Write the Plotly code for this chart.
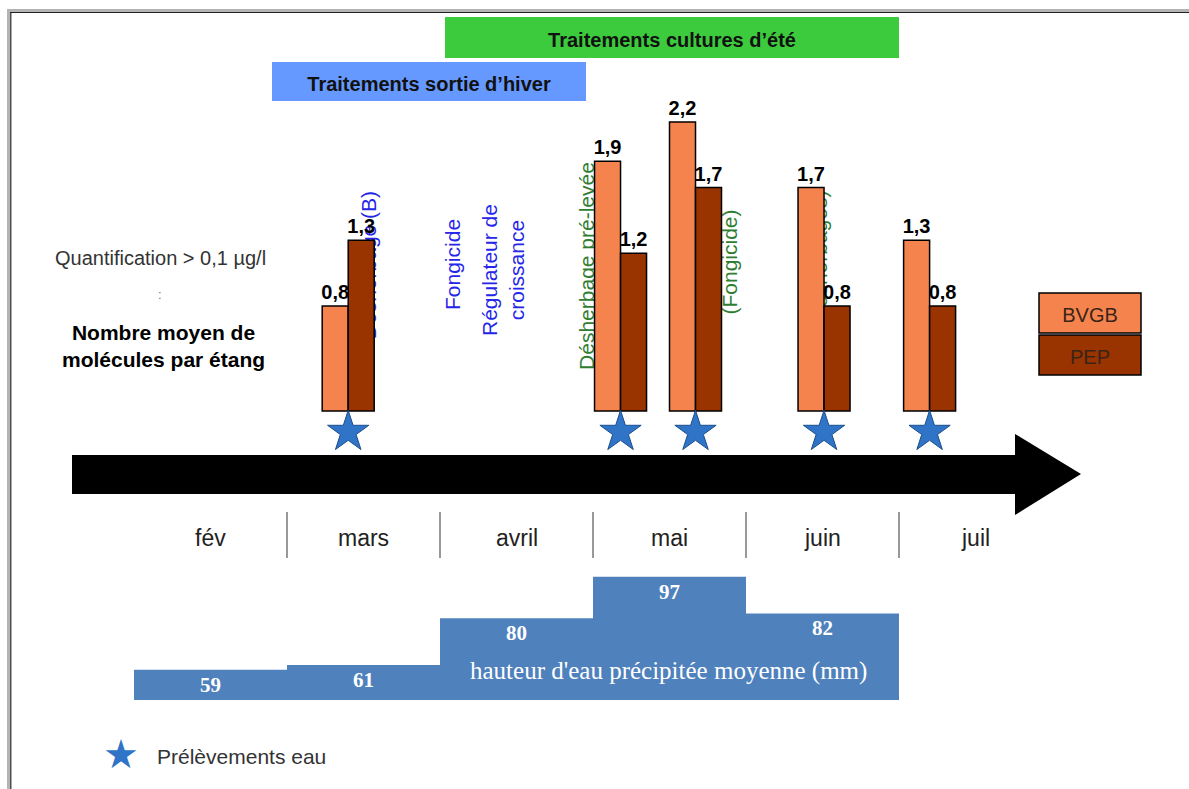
import plotly.graph_objects as go

# ---------------------------------------------------------------------------
# Données
# ---------------------------------------------------------------------------
# Dates des prélèvements d'eau (mois fractionnaire : 3 = début mars)
prelevements = [3.40, 5.18, 5.67, 6.51, 7.20]
# Nombre moyen de molécules quantifiées (> 0,1 µg/l) par étang
bvgb = [0.8, 1.9, 2.2, 1.7, 1.3]
pep = [1.3, 1.2, 1.7, 0.8, 0.8]

# Axe des mois
mois_num = [2, 3, 4, 5, 6, 7]
mois = ["fév", "mars", "avril", "mai", "juin", "juil"]

# Hauteur d'eau précipitée moyenne (mm), de février à juin
pluie_mois = [2, 3, 4, 5, 6]
pluie = [59, 61, 80, 97, 82]

# ---------------------------------------------------------------------------
# Mise en page (pixels de la page)
# ---------------------------------------------------------------------------
W, H = 1189, 789
MONTH_PX = 153.0          # largeur d'un mois
MARS_PX = 287.0           # début de mars
BASE_PX = 411.0           # pied des barres
UNIT_PX = 131.4           # pixels par molécule
RAIN_BOTTOM_PX, RAIN_TOP_PX = 700.0, 560.0
RAIN_MIN, RAIN_PX = 46.7, 2.452

ORANGE = "#F5834D"
BROWN = "#993300"
RAIN_BLUE = "#4F81BD"
STAR_BLUE = "#2F74C6"
TXT_BLUE = "#2626E8"
TXT_GREEN = "#2E7D32"
SANS = "Liberation Sans"
SERIF = "Liberation Serif"


def fx(px):
    return px / W


def fy(py):
    return 1 - py / H


x_lo = 3 - MARS_PX / MONTH_PX
x_hi = x_lo + W / MONTH_PX
y_lo = -(H - BASE_PX) / UNIT_PX
y_hi = BASE_PX / UNIT_PX
bar_w = 26 / MONTH_PX
star_y = (BASE_PX - 432) / UNIT_PX


def fr(v):
    return f"{v:.1f}".replace(".", ",")


fig = go.Figure()

# Barres : molécules par étang
fig.add_trace(go.Bar(
    x=prelevements, y=bvgb, width=bar_w, offset=-bar_w, name="BVGB",
    marker=dict(color=ORANGE, line=dict(color="black", width=1.5)),
    text=[fr(v) for v in bvgb], textposition="outside", constraintext="none",
    textangle=0, cliponaxis=False,
    textfont=dict(family=SANS, size=20, color="black", weight="bold"),
    hoverinfo="skip",
))
fig.add_trace(go.Bar(
    x=prelevements, y=pep, width=bar_w, offset=0, name="PEP",
    marker=dict(color=BROWN, line=dict(color="black", width=1.5)),
    text=[fr(v) for v in pep], textposition="outside", constraintext="none",
    textangle=0, cliponaxis=False,
    textfont=dict(family=SANS, size=20, color="black", weight="bold"),
    hoverinfo="skip",
))

# Étoiles : prélèvements d'eau
fig.add_trace(go.Scatter(
    x=prelevements, y=[star_y] * len(prelevements), mode="markers",
    marker=dict(symbol="star", size=31, color=STAR_BLUE,
                line=dict(color="#1B4E8C", width=1)),
    cliponaxis=False, hoverinfo="skip", name="Prélèvements eau",
))

# Pluviométrie mensuelle
fig.add_trace(go.Bar(
    x=[m + 0.5 for m in pluie_mois], y=pluie, width=1, yaxis="y2",
    marker=dict(color=RAIN_BLUE, line=dict(width=0)),
    text=[str(v) for v in pluie], textposition="inside",
    insidetextanchor="end", textangle=0,
    textfont=dict(family=SERIF, size=21, color="white", weight="bold"),
    hoverinfo="skip", name="Pluie",
))

shapes = []
annotations = []

# Cadre de la page
shapes += [
    dict(type="line", xref="paper", yref="paper", x0=fx(7), x1=1, y0=fy(10.5), y1=fy(10.5),
         line=dict(color="#B4B4B4", width=3)),
    dict(type="line", xref="paper", yref="paper", x0=fx(10), x1=1, y0=fy(12.5), y1=fy(12.5),
         line=dict(color="#222222", width=1.2)),
    dict(type="line", xref="paper", yref="paper", x0=fx(8.5), x1=fx(8.5), y0=fy(9), y1=0,
         line=dict(color="#B4B4B4", width=3)),
    dict(type="line", xref="paper", yref="paper", x0=fx(10.8), x1=fx(10.8), y0=fy(12), y1=0,
         line=dict(color="#222222", width=1.2)),
]

# Bandeaux des périodes de traitement
shapes += [
    dict(type="rect", xref="paper", yref="paper", x0=fx(445), x1=fx(899), y0=fy(58), y1=fy(17),
         fillcolor="#3CCB3C", line=dict(width=0),
         label=dict(text="Traitements cultures d’été",
                    font=dict(family=SANS, size=20, color="#111111", weight="bold"))),
    dict(type="rect", xref="paper", yref="paper", x0=fx(272), x1=fx(586), y0=fy(101), y1=fy(62),
         fillcolor="#6699FF", line=dict(width=0),
         label=dict(text="Traitements sortie d’hiver",
                    font=dict(family=SANS, size=20, color="#111111", weight="bold"))),
]

# Flèche du temps
arrow = [(72, 455), (1015, 455), (1015, 434), (1081, 474), (1015, 515), (1015, 494), (72, 494)]
path = "M " + " L ".join(f"{fx(a):.5f},{fy(b):.5f}" for a, b in arrow) + " Z"
shapes.append(dict(type="path", xref="paper", yref="paper", path=path,
                   fillcolor="black", line=dict(width=0)))

# Séparateurs entre les mois
for m in mois_num[1:]:
    shapes.append(dict(type="line", xref="x", yref="paper", x0=m, x1=m,
                       y0=fy(558), y1=fy(512), line=dict(color="#555555", width=1.2)))

# Libellés de traitements en partie masqués par les barres
hidden = [
    ("Désherbage (B)", 366, 265, TXT_BLUE),
    ("Désherbage pré-levée", 584, 266, TXT_GREEN),
    ("(Fongicide)", 727, 262, TXT_GREEN),
    ("(Désherbages)", 817, 260, TXT_GREEN),
]
for txt, cx, cy, col in hidden:
    shapes.append(dict(type="rect", xref="paper", yref="paper",
                       x0=fx(cx - 12), x1=fx(cx + 12), y0=fy(cy + 120), y1=fy(cy - 120),
                       fillcolor="rgba(0,0,0,0)", line=dict(width=0), layer="below",
                       label=dict(text=txt, textangle=-90,
                                  font=dict(family=SANS, size=21, color=col))))

# Légende des étangs
for txt, col, y0, y1 in [("BVGB", ORANGE, 293, 333), ("PEP", BROWN, 335, 375)]:
    shapes.append(dict(type="rect", xref="paper", yref="paper",
                       x0=fx(1039), x1=fx(1141), y0=fy(y1), y1=fy(y0),
                       fillcolor=col, line=dict(color="black", width=1.5),
                       label=dict(text=txt, font=dict(family=SANS, size=20, color="#3A2418"))))

# Traitements de printemps
annotations += [
    dict(text="Fongicide", x=fx(452), y=fy(265), textangle=-90,
         font=dict(family=SANS, size=21, color=TXT_BLUE)),
    dict(text="Régulateur de<br>croissance", x=fx(503), y=fy(270), textangle=-90,
         font=dict(family=SANS, size=21, color=TXT_BLUE)),
]

# Texte explicatif à gauche
annotations += [
    dict(text="Quantification > 0,1 µg/l", x=fx(160), y=fy(258),
         font=dict(family=SANS, size=20, color="#333333")),
    dict(text=":", x=fx(160), y=fy(294), font=dict(family=SANS, size=13, color="#777777")),
    dict(text="Nombre moyen de<br>molécules par étang", x=fx(163), y=fy(346),
         font=dict(family=SANS, size=21, color="black", weight="bold")),
]

# Légende de la pluviométrie et des prélèvements
annotations += [
    dict(text="hauteur d'eau précipitée moyenne (mm)", x=fx(668), y=fy(671),
         font=dict(family=SERIF, size=25, color="white")),
    dict(text="★", x=fx(121), y=fy(754), font=dict(family="DejaVu Sans", size=40, color=STAR_BLUE)),
    dict(text="Prélèvements eau", x=fx(155), y=fy(756), xanchor="left",
         font=dict(family=SANS, size=21, color="#333333")),
]
for a in annotations:
    a.setdefault("xanchor", "center")
    a.update(xref="paper", yref="paper", yanchor="middle", showarrow=False)

# Noms des mois sous la flèche
for m, nom in zip(mois_num, mois):
    annotations.append(dict(text=nom, x=m + 0.5, xref="x", y=fy(538), yref="paper",
                            xanchor="center", yanchor="middle", showarrow=False,
                            font=dict(family=SANS, size=23, color="#222222")))

fig.update_layout(
    width=W, height=H, autosize=False,
    margin=dict(l=0, r=0, t=0, b=0, pad=0),
    paper_bgcolor="white", plot_bgcolor="white",
    showlegend=False, hovermode=False, barmode="overlay",
    shapes=shapes, annotations=annotations,
    xaxis=dict(range=[x_lo, x_hi], visible=False, fixedrange=True),
    yaxis=dict(range=[y_lo, y_hi], visible=False, fixedrange=True),
    yaxis2=dict(range=[RAIN_MIN, RAIN_MIN + (RAIN_BOTTOM_PX - RAIN_TOP_PX) / RAIN_PX],
                domain=[fy(RAIN_BOTTOM_PX), fy(RAIN_TOP_PX)], anchor="x",
                visible=False, fixedrange=True),
)

fig.write_html("out.html", config={"displayModeBar": False})
